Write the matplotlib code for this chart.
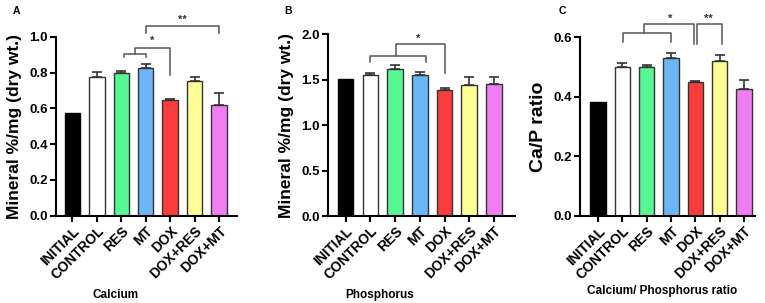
import matplotlib
matplotlib.use("Agg")
import matplotlib.pyplot as plt
import numpy as np

plt.rcParams['font.family'] = ['Liberation Sans', 'DejaVu Sans']
plt.rcParams['font.weight'] = 'bold'

groups = ["INITIAL", "CONTROL", "RES", "MT", "DOX", "DOX+RES", "DOX+MT"]
bar_colors = ["#000000", "#ffffff", "#57f793", "#6cb6f5", "#fb3c3c", "#fdfd96", "#f07ef2"]

ca_mean = [0.575, 0.777, 0.797, 0.825, 0.644, 0.755, 0.621]
ca_err = [0.0, 0.027, 0.014, 0.025, 0.009, 0.021, 0.066]

p_mean = [1.507, 1.549, 1.615, 1.549, 1.386, 1.440, 1.450]
p_err = [0.0, 0.021, 0.044, 0.031, 0.024, 0.085, 0.075]

ratio_mean = [0.383, 0.501, 0.501, 0.529, 0.450, 0.521, 0.425]
ratio_err = [0.0, 0.014, 0.007, 0.017, 0.004, 0.021, 0.032]

# significance brackets: (x_left, x_right, y_top, y_left_end, y_right_end)
ca_brackets = [(2.1, 3.0, 0.906, 0.887, 0.887),
               (2.55, 3.99, 0.937, 0.906, 0.787),
               (3.0, 6.0, 1.061, 1.022, 1.022)]
ca_stars = [(3.27, 0.975, "*"), (4.5, 1.095, "**")]

p_brackets = [(1.0, 3.23, 1.765, 1.70, 1.70),
              (2.05, 4.0, 1.89, 1.765, 1.57)]
p_stars = [(2.95, 1.95, "*")]

ratio_brackets = [(1.04, 3.0, 0.6155, 0.583, 0.583),
                  (1.9, 3.96, 0.646, 0.6155, 0.5765),
                  (4.07, 5.08, 0.646, 0.5765, 0.5765)]
ratio_stars = [(2.97, 0.661, "*"), (4.54, 0.661, "**")]


def draw_panel(ax, means, errs, ylim, yticks, ylabel, xlabel, xlim,
               brackets, stars, ylab_x, xlab_x, xlab_y, ylab_size):
    x = np.arange(len(groups))
    edge = ["#000000"] + ["#333333"] * (len(groups) - 1)
    ax.bar(x, means, width=0.63, color=bar_colors, edgecolor=edge, linewidth=1.0, zorder=2)
    ax.errorbar(x[1:], means[1:], yerr=[np.zeros(len(x) - 1), errs[1:]], fmt='none',
                ecolor="#333333", elinewidth=1.2, capsize=3.5, capthick=1.2, zorder=1)
    ax.set_xlim(*xlim)
    ax.set_ylim(*ylim)
    ax.set_yticks(yticks)
    ax.set_yticklabels([f"{t:.1f}" for t in yticks], fontsize=9.5, fontweight='bold')
    ax.set_xticks(x)
    ax.set_xticklabels(groups, rotation=45, ha='right', rotation_mode='anchor',
                       fontsize=10, fontweight='bold')
    ax.spines['top'].set_visible(False)
    ax.spines['right'].set_visible(False)
    for s in ['left', 'bottom']:
        ax.spines[s].set_linewidth(1.5)
    ax.tick_params(axis='both', width=1.5, length=4, direction='out', pad=2)
    ax.set_ylabel(ylabel, fontsize=ylab_size, fontweight='bold', va='center')
    ax.yaxis.set_label_coords(ylab_x, 0.5)
    ax.set_xlabel(xlabel, fontsize=8.5, fontweight='bold', va='top')
    ax.xaxis.set_label_coords(xlab_x, xlab_y)
    for x1, x2, yt, yl, yr in brackets:
        ax.plot([x1, x1, x2, x2], [yl, yt, yt, yr], color="#555555", lw=1.1,
                clip_on=False, zorder=3)
    for sx, sy, st in stars:
        ax.text(sx, sy, st, ha='center', va='center', fontsize=8, fontweight='bold',
                color="#333333", clip_on=False)


fig = plt.figure(figsize=(7.65, 3.03), dpi=100)

axA = fig.add_axes([0.0732, 0.288, 0.2362, 0.5908])
draw_panel(axA, ca_mean, ca_err, (0, 1.0), [0.0, 0.2, 0.4, 0.6, 0.8, 1.0],
           "Mineral %/mg (dry wt.)", "Calcium", (-0.67, 6.72),
           ca_brackets, ca_stars, -0.232, 0.327, -0.41, 12.5)

axB = fig.add_axes([0.4292, 0.287, 0.244, 0.5997])
draw_panel(axB, p_mean, p_err, (0, 2.0), [0.0, 0.5, 1.0, 1.5, 2.0],
           "Mineral %/mg (dry wt.)", "Phosphorus", (-0.70, 6.85),
           p_brackets, p_stars, -0.223, 0.277, -0.40, 12.5)

axC = fig.add_axes([0.7588, 0.288, 0.228, 0.5888])
draw_panel(axC, ratio_mean, ratio_err, (0, 0.6), [0.0, 0.2, 0.4, 0.6],
           "Ca/P ratio", "Calcium/ Phosphorus ratio", (-0.72, 6.45),
           ratio_brackets, ratio_stars, -0.242, 0.466, -0.39, 14)

fig.text(13 / 765, 1 - 10.7 / 303, "A", fontsize=7.5, fontweight='bold', va='center')
fig.text(284 / 765, 1 - 10.7 / 303, "B", fontsize=7.5, fontweight='bold', va='center')
fig.text(559 / 765, 1 - 10.7 / 303, "C", fontsize=7.5, fontweight='bold', va='center')

fig.savefig("out.png", dpi=100)
